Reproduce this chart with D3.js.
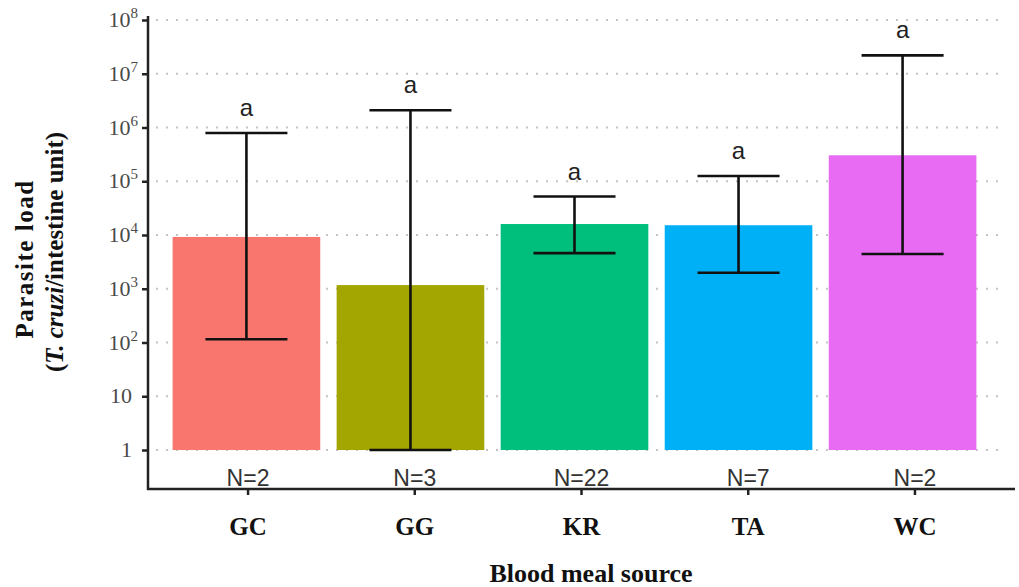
<!DOCTYPE html>
<html>
<head>
<meta charset="utf-8">
<script src="https://cdn.jsdelivr.net/npm/d3@7"></script>
<style>
  body { margin: 0; background: #fff; }
</style>
</head>
<body>
<script>
// DATA
var categories = ["GC", "GG", "KR", "TA", "WC"];
var means = [9200, 1170, 16000, 15200, 304000];
var lowerCI = [115, 1, 4600, 1990, 4430];
var upperCI = [790000, 2100000, 52000, 125000, 22000000];
var counts = [2, 3, 22, 7, 2];
var letters = ["a", "a", "a", "a", "a"];
var barColors = ["#F8766D", "#A3A500", "#00BF7D", "#00B0F6", "#E76BF3"];
var yTicks = [1, 10, 100, 1e3, 1e4, 1e5, 1e6, 1e7, 1e8];

var data = categories.map(function(c, i) {
    return {cat: c, mean: means[i], lo: lowerCI[i], hi: upperCI[i], n: counts[i], letter: letters[i], color: barColors[i]};
});

var svg = d3.select("body")
    .append("svg")
    .attr("width", 1019)
    .attr("height", 587);

// plot box
const plotLeft = 148, plotTop = 20, axisY = 489;

// axis positions and bar positions (bars sit on a slightly narrower band)
const xAxisScale = d3.scaleBand()
    .domain(categories)
    .range([plotLeft, 1015])
    .paddingInner(0.1)
    .paddingOuter(0.15);

const xScale = d3.scaleBand()
    .domain(categories)
    .range([plotLeft, 1001])
    .paddingInner(0.1)
    .paddingOuter(0.15);

const yScale = d3.scaleLog()
    .domain([1, 1e8])
    .range([450, plotTop]);

// gridlines
svg.append("g").selectAll("line").data(yTicks)
    .enter()
    .append("line")
    .attr("x1", plotLeft + 8)
    .attr("x2", 1001)
    .attr("y1", d => yScale(d))
    .attr("y2", d => yScale(d))
    .attr("stroke", "#c4c4c4")
    .attr("stroke-width", 2)
    .attr("stroke-dasharray", "2,8");

// bars
svg.append("g").selectAll("rect").data(data)
    .enter()
    .append("rect")
    .attr("x", d => xScale(d.cat))
    .attr("y", d => yScale(d.mean))
    .attr("width", xScale.bandwidth())
    .attr("height", d => yScale(1) - yScale(d.mean))
    .attr("fill", d => d.color);

// error bars
const capW = xScale.step() * 0.5;
const eb = svg.append("g")
    .attr("stroke", "#111")
    .attr("stroke-width", 2.6);
data.forEach(function(d) {
    var cx = xScale(d.cat) + xScale.bandwidth() / 2;
    eb.append("line").attr("x1", cx).attr("x2", cx)
        .attr("y1", yScale(d.lo)).attr("y2", yScale(d.hi));
    eb.append("line").attr("x1", cx - capW / 2).attr("x2", cx + capW / 2)
        .attr("y1", yScale(d.hi)).attr("y2", yScale(d.hi));
    eb.append("line").attr("x1", cx - capW / 2).attr("x2", cx + capW / 2)
        .attr("y1", yScale(d.lo)).attr("y2", yScale(d.lo));
});

// significance letters
svg.append("g").selectAll("text").data(data)
    .enter()
    .append("text")
    .attr("x", d => xScale(d.cat) + xScale.bandwidth() / 2)
    .attr("y", d => yScale(d.hi) - 17)
    .attr("text-anchor", "middle")
    .attr("font-family", "Liberation Sans, Arial, sans-serif")
    .attr("font-size", 24)
    .attr("fill", "#222")
    .text(d => d.letter);

// N labels
svg.append("g").selectAll("text").data(data)
    .enter()
    .append("text")
    .attr("x", d => xAxisScale(d.cat) + xAxisScale.bandwidth() / 2)
    .attr("y", 486)
    .attr("text-anchor", "middle")
    .attr("font-family", "Liberation Sans, Arial, sans-serif")
    .attr("font-size", 23)
    .attr("fill", "#333")
    .text(d => "N=" + d.n);

// y axis
const yAxis = svg.append("g")
    .attr("transform", "translate(" + plotLeft + ",0)")
    .call(d3.axisLeft(yScale).tickValues(yTicks).tickSize(6).tickFormat(""));
yAxis.select(".domain").remove();
yAxis.selectAll(".tick line").attr("stroke", "#222").attr("stroke-width", 2.5);
svg.append("line")
    .attr("x1", plotLeft).attr("x2", plotLeft)
    .attr("y1", plotTop - 4).attr("y2", axisY + 1)
    .attr("stroke", "#222").attr("stroke-width", 2.5);

const yLab = svg.append("g").selectAll("text").data(yTicks)
    .enter()
    .append("text")
    .attr("x", d => d < 100 ? 132 : 138)
    .attr("y", d => yScale(d) + 7)
    .attr("text-anchor", "end")
    .attr("font-family", "Liberation Serif, Times New Roman, serif")
    .attr("font-size", 22)
    .attr("fill", "#4a4a4a");
yLab.each(function(d) {
    var t = d3.select(this);
    var e = Math.round(Math.log10(d));
    if (e < 2) {
        t.text(String(d));
    } else {
        t.append("tspan").text("10");
        t.append("tspan").attr("dy", -9).attr("font-size", 15).text(e);
    }
});

// x axis
const xAxis = svg.append("g")
    .attr("transform", "translate(0," + axisY + ")")
    .call(d3.axisBottom(xAxisScale).tickSize(6).tickFormat(""));
xAxis.select(".domain").remove();
xAxis.selectAll(".tick line").attr("stroke", "#222").attr("stroke-width", 2.5);
svg.append("line")
    .attr("x1", plotLeft - 1).attr("x2", 1015)
    .attr("y1", axisY).attr("y2", axisY)
    .attr("stroke", "#222").attr("stroke-width", 2.5);

svg.append("g").selectAll("text").data(categories)
    .enter()
    .append("text")
    .attr("x", d => xAxisScale(d) + xAxisScale.bandwidth() / 2)
    .attr("y", 535)
    .attr("text-anchor", "middle")
    .attr("font-family", "Liberation Serif, Times New Roman, serif")
    .attr("font-weight", "bold")
    .attr("font-size", 25)
    .attr("fill", "#111")
    .text(d => d);

// titles
svg.append("text")
    .attr("x", 591)
    .attr("y", 582)
    .attr("text-anchor", "middle")
    .attr("font-family", "Liberation Serif, Times New Roman, serif")
    .attr("font-weight", "bold")
    .attr("font-size", 26)
    .attr("fill", "#111")
    .text("Blood meal source");

const yt = svg.append("g")
    .attr("transform", "translate(0,0) rotate(-90)")
    .attr("font-family", "Liberation Serif, Times New Roman, serif")
    .attr("font-weight", "bold")
    .attr("font-size", 25)
    .attr("fill", "#111")
    .attr("text-anchor", "middle");
yt.append("text").attr("x", -259).attr("y", 33)
    .attr("letter-spacing", 1.5)
    .text("Parasite load");
const yt2 = yt.append("text").attr("x", -252).attr("y", 63);
yt2.append("tspan").text("(");
yt2.append("tspan").attr("font-style", "italic").text("T. cruzi");
yt2.append("tspan").text("/intestine unit)");
</script>
</body>
</html>
